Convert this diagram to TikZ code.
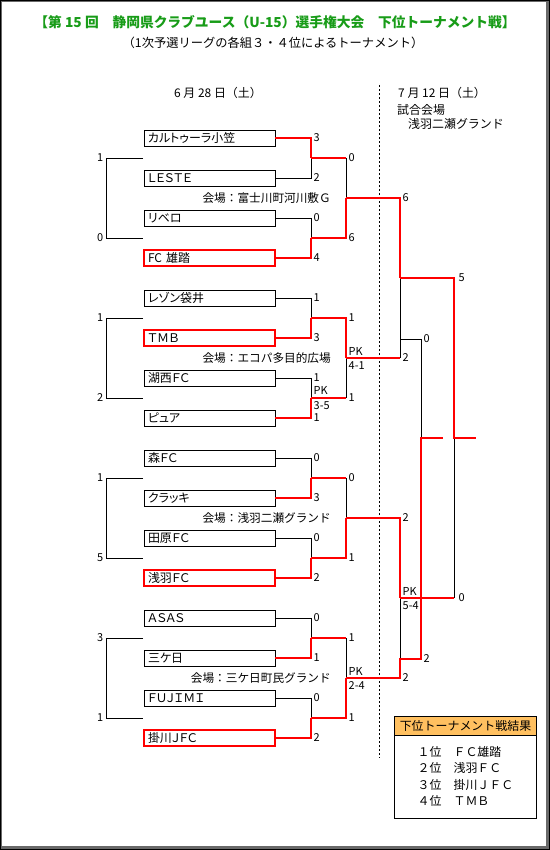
\documentclass[tikz,border=0pt]{standalone}
\usepackage{fontspec}
\setmainfont{Noto Sans CJK JP}
\newfontfamily\jpprop[RawFeature=+palt]{Noto Sans CJK JP}
\usetikzlibrary{positioning, calc}

\definecolor{winred}{RGB}{255,0,0}
\definecolor{titlegreen}{RGB}{24,156,24}
\definecolor{headorange}{RGB}{255,192,96}
\definecolor{framegray}{RGB}{105,105,105}

\begin{document}
\begin{tikzpicture}[
x=1bp, y=-1bp,
node distance=24bp,
font=\fontsize{12}{14}\selectfont,
team/.style={
rectangle, draw, line width=1bp,
outer sep=0pt, inner xsep=4bp, inner ysep=0pt,
minimum height=16bp, text width=123bp, align=left,
font=\jpprop\fontsize{12}{14}\selectfont
},
teamwin/.style={team, draw=winred, line width=2bp},
score/.style={anchor=west, inner xsep=2.5bp, inner ysep=0pt, font=\fontsize{11}{12}\selectfont},
leftscore/.style={score, anchor=east},
venue/.style={anchor=east, inner sep=0pt, font=\fontsize{11.7}{14}\selectfont},
line/.style={draw=black, line width=1bp},
winline/.style={draw=winred, line width=2bp, line join=miter},
result/.style={
rectangle, draw, line width=1bp,
minimum width=142.4bp, outer sep=0pt
}
]

\useasboundingbox (0,0) rectangle (550,850);

% frame
\draw[black, line width=1bp] (0.5,0.5) rectangle (549.5,849.5);
\draw[framegray, line width=1.2bp] (1.6,1.6) rectangle (548.4,848.4);
\draw[framegray, line width=1.5bp] (547.2,1.6) -- (547.2,847.2) -- (1.6,847.2);

% headings
\node[font=\bfseries\fontsize{13.8}{15}\selectfont, text=titlegreen] (title) at (275,22)
{【第 15 回　静岡県クラブユース（U-15）選手権大会　下位トーナメント戦】};
\node[font=\fontsize{12.3}{14}\selectfont] (subtitle) at (273,43)
{（1次予選リーグの各組３・４位によるトーナメント）};

\node (day1) at (218,93) {6 月 28 日（土）};
\node[anchor=west, inner sep=0pt] (day2) at (398,93) {7 月 12 日（土）};
\node[anchor=west, inner sep=0pt] (site) at (397,110) {試合会場};
\node[anchor=west, inner sep=0pt] (sitename) at (408,124) {浅羽二瀬グランド};

\coordinate (dtop) at (379,85);
\coordinate (dbot) at (379,758);
\draw[line, dash pattern=on 2bp off 2bp] (dtop) -- (dbot);

% teams
\node[team] (t1) at (209.5,138) {カルトゥーラ小笠};
\node[team, below=of t1] (t2) {ＬＥＳＴＥ};
\node[team, below=of t2] (t3) {リベロ};
\node[teamwin, below=of t3] (t4) {FC 雄踏};
\node[team, below=of t4] (t5) {レゾン袋井};
\node[teamwin, below=of t5] (t6) {ＴＭＢ};
\node[team, below=of t6] (t7) {湖西ＦＣ};
\node[team, below=of t7] (t8) {ピュア};
\node[team, below=of t8] (t9) {森ＦＣ};
\node[team, below=of t9] (t10) {クラッキ};
\node[team, below=of t10] (t11) {田原ＦＣ};
\node[teamwin, below=of t11] (t12) {浅羽ＦＣ};
\node[team, below=of t12] (t13) {ＡＳＡＳ};
\node[team, below=of t13] (t14) {三ケ日};
\node[team, below=of t14] (t15) {ＦＵＪＩＭＩ};
\node[teamwin, below=of t15] (t16) {掛川ＪＦＣ};

% junctions
\coordinate (a1) at (311,158);
\coordinate (a2) at (311,238);
\coordinate (a3) at (311,318);
\coordinate (a4) at (311,398);
\coordinate (a5) at (311,478);
\coordinate (a6) at (311,558);
\coordinate (a7) at (311,638);
\coordinate (a8) at (311,718);
\coordinate (b1) at (346,198);
\coordinate (b2) at (346,358);
\coordinate (b3) at (346,518);
\coordinate (b4) at (346,678);
\coordinate (s1) at (400,278);
\coordinate (s2) at (400,598);
\coordinate (q1) at (400,339);
\coordinate (q2) at (400,659);
\coordinate (r) at (421,438);
\coordinate (rend) at (443,438);
\coordinate (f) at (454,438);
\coordinate (fend) at (476,438);

% league brackets on the left
\coordinate (e1) at (143,158);
\coordinate (e2) at (143,238);
\coordinate (e3) at (143,318);
\coordinate (e4) at (143,398);
\coordinate (e5) at (143,478);
\coordinate (e6) at (143,558);
\coordinate (e7) at (143,638);
\coordinate (e8) at (143,718);
\coordinate (g1) at (106,158);
\coordinate (g2) at (106,318);
\coordinate (g3) at (106,478);
\coordinate (g4) at (106,638);

\draw[line] (e1) -- (g1) |- (e2);
\draw[line] (e3) -- (g2) |- (e4);
\draw[line] (e5) -- (g3) |- (e6);
\draw[line] (e7) -- (g4) |- (e8);

\node[leftscore] at (g1) {1};
\node[leftscore] at (g1 |- e2) {0};
\node[leftscore] at (g2) {1};
\node[leftscore] at (g2 |- e4) {2};
\node[leftscore] at (g3) {1};
\node[leftscore] at (g3 |- e6) {5};
\node[leftscore] at (g4) {3};
\node[leftscore] at (g4 |- e8) {1};

% first round
\draw[line] (t2.east) -| (a1);
\draw[line] (t3.east) -| (a2);
\draw[line] (t5.east) -| (a3);
\draw[line] (t7.east) -| (a4);
\draw[line] (t9.east) -| (a5);
\draw[line] (t11.east) -| (a6);
\draw[line] (t13.east) -| (a7);
\draw[line] (t15.east) -| (a8);
\draw[winline] (t1.east) -| (a1);
\draw[winline] (t4.east) -| (a2);
\draw[winline] (t6.east) -| (a3);
\draw[winline] (t8.east) -| (a4);
\draw[winline] (t10.east) -| (a5);
\draw[winline] (t12.east) -| (a6);
\draw[winline] (t14.east) -| (a7);
\draw[winline] (t16.east) -| (a8);

\node[score] at (t1.east -| a1) {3};
\node[score] at (t2.east -| a1) {2};
\node[score] at (t3.east -| a2) {0};
\node[score] at (t4.east -| a2) {4};
\node[score] at (t5.east -| a3) {1};
\node[score] at (t6.east -| a3) {3};
\node[score] at (t7.east -| a4) {1};
\node[score] at (t8.east -| a4) {1};
\node[score] at ($(a4)+(0,-8)$) {PK};
\node[score] at ($(a4)+(0,8)$) {3-5};
\node[score] at (t9.east -| a5) {0};
\node[score] at (t10.east -| a5) {3};
\node[score] at (t11.east -| a6) {0};
\node[score] at (t12.east -| a6) {2};
\node[score] at (t13.east -| a7) {0};
\node[score] at (t14.east -| a7) {1};
\node[score] at (t15.east -| a8) {0};
\node[score] at (t16.east -| a8) {2};

% second round
\draw[line] (a1 -| b1) -- (b1);
\draw[line] (a4 -| b2) -- (b2);
\draw[line] (a5 -| b3) -- (b3);
\draw[line] (a7 -| b4) -- (b4);
\draw[winline] (a1) -- (a1 -| b1);
\draw[winline] (a2) -- (a2 -| b1) -- (b1);
\draw[winline] (a3) -- (a3 -| b2) -- (b2);
\draw[winline] (a4) -- (a4 -| b2);
\draw[winline] (a5) -- (a5 -| b3);
\draw[winline] (a6) -- (a6 -| b3) -- (b3);
\draw[winline] (a7) -- (a7 -| b4);
\draw[winline] (a8) -- (a8 -| b4) -- (b4);

\node[score] at (a1 -| b1) {0};
\node[score] at (a2 -| b1) {6};
\node[score] at (a3 -| b2) {1};
\node[score] at (a4 -| b2) {1};
\node[score] at ($(b2)+(0,-7)$) {PK};
\node[score] at ($(b2)+(0,8)$) {4-1};
\node[score] at (a5 -| b3) {0};
\node[score] at (a6 -| b3) {1};
\node[score] at (a7 -| b4) {1};
\node[score] at (a8 -| b4) {1};
\node[score] at ($(b4)+(0,-7)$) {PK};
\node[score] at ($(b4)+(0,8)$) {2-4};

\node[venue, left=15bp of b1] (v1) {会場：富士川町河川敷Ｇ};
\node[venue, left=15bp of b2] (v2) {会場：エコパ多目的広場};
\node[venue, left=15bp of b3] (v3) {会場：浅羽二瀬グランド};
\node[venue, left=15bp of b4] (v4) {会場：三ケ日町民グランド};

% semifinals and third place
\draw[line] (b2 -| s1) -- (s1);
\draw[line] (q1) -| (r);
\draw[line] (q2) -- (s2);
\draw[winline] (b1) -- (b1 -| s1) -- (s1);
\draw[winline] (b2) -- (b2 -| s1);
\draw[winline] (b3) -- (b3 -| s2) -- (s2);
\draw[winline] (b4) -- (b4 -| s2) -- (q2) -| (r) -- (rend);

\node[score] at (b1 -| s1) {6};
\node[score] at (b2 -| s1) {2};
\node[score] at (b3 -| s2) {2};
\node[score] at (b4 -| s2) {2};
\node[score] at (q1 -| r) {0};
\node[score] at (q2 -| r) {2};
\node[score] at ($(s2)+(0,-7)$) {PK};
\node[score] at ($(s2)+(0,8)$) {5-4};

% final
\draw[line] (s2 -| f) -- (f);
\draw[winline] (s2) -- (s2 -| f);
\draw[winline] (s1) -- (s1 -| f) -- (f) -- (fend);

\node[score, xshift=2bp] at (s1 -| f) {5};
\node[score, xshift=2bp] at (s2 -| f) {0};

% result table
\node[result, fill=headorange, minimum height=19bp] (reshead) at (465.5,725.5)
{下位トーナメント戦結果};
\node[result, minimum height=83bp, align=left, below=0pt of reshead,
font=\fontsize{12}{16.3}\selectfont] (resbody)
{１位　ＦＣ雄踏\\２位　浅羽ＦＣ\\３位　掛川ＪＦＣ\\４位　ＴＭＢ};

\end{tikzpicture}
\end{document}
